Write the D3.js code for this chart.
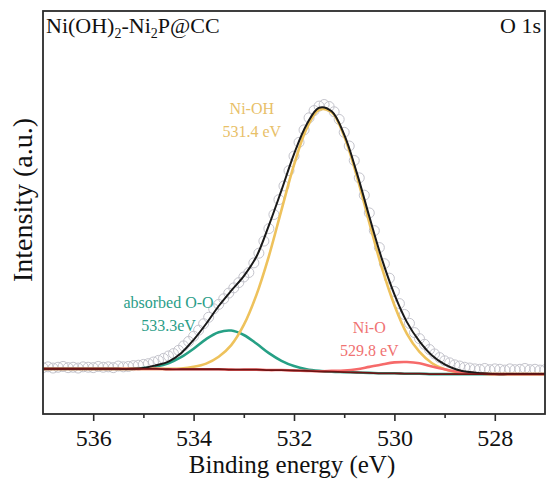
<!DOCTYPE html>
<html>
<head>
<meta charset="utf-8">
<script src="https://cdn.jsdelivr.net/npm/d3@7"></script>
<style>
  body { margin: 0; background: #fff; }
  svg text { font-family: "Liberation Serif", serif; }
</style>
</head>
<body>
<div id="canvas"></div>
<script>
// measured spectrum (O 1s), open circles
const rawEnergy = [
  537.0, 536.9, 536.8, 536.7, 536.6, 536.5, 536.4, 536.3, 536.2, 536.1,
  536.0, 535.9, 535.8, 535.7, 535.6, 535.5, 535.4, 535.3, 535.2, 535.1,
  535.0, 534.9, 534.8, 534.7, 534.6, 534.5, 534.4, 534.3, 534.2, 534.1,
  534.0, 533.9, 533.8, 533.7, 533.6, 533.5, 533.4, 533.3, 533.2, 533.1,
  533.0, 532.9, 532.8, 532.7, 532.6, 532.5, 532.4, 532.3, 532.2, 532.1,
  532.0, 531.9, 531.8, 531.7, 531.6, 531.5, 531.4, 531.3, 531.2, 531.1,
  531.0, 530.9, 530.8, 530.7, 530.6, 530.5, 530.4, 530.3, 530.2, 530.1,
  530.0, 529.9, 529.8, 529.7, 529.6, 529.5, 529.4, 529.3, 529.2, 529.1,
  529.0, 528.9, 528.8, 528.7, 528.6, 528.5, 528.4, 528.3, 528.2, 528.1,
  528.0, 527.9, 527.8, 527.7, 527.6, 527.5, 527.4, 527.3, 527.2, 527.1,
  527.0
];
const rawIntensity = [
  11.5, 11.7, 11.4, 11.6, 11.8, 11.5, 11.6, 11.4, 11.7, 11.6,
  11.5, 11.8, 11.6, 11.7, 11.5, 11.9, 11.7, 11.8, 12.0, 12.1,
  12.3, 12.5, 12.9, 13.3, 13.8, 14.4, 15.0, 15.8, 16.9, 18.0,
  19.3, 20.8, 22.4, 24.0, 26.1, 27.2, 28.6, 30.0, 31.3, 32.6,
  34.0, 35.1, 37.5, 39.9, 42.9, 46.0, 49.5, 53.2, 56.6, 60.4,
  64.0, 67.4, 70.5, 73.5, 75.3, 76.4, 76.8, 76.3, 75.0, 73.1,
  69.9, 66.5, 62.9, 58.6, 54.3, 49.9, 45.5, 41.3, 37.3, 33.7,
  30.4, 27.4, 24.7, 22.5, 20.2, 18.7, 17.3, 16.0, 14.9, 14.0,
  13.2, 12.7, 12.2, 11.9, 11.6, 11.4, 11.2, 11.1, 11.3, 11.0,
  11.2, 11.1, 10.9, 11.2, 11.0, 11.1, 11.3, 11.0, 11.1, 10.9,
  11.0
];

// fitted curves
const fitEnergy = [
  537.0, 536.75, 536.5, 536.25, 536.0, 535.75, 535.5, 535.25, 535.0, 534.75,
  534.5, 534.25, 534.0, 533.75, 533.5, 533.25, 533.0, 532.75, 532.5, 532.25,
  532.0, 531.75, 531.5, 531.25, 531.0, 530.75, 530.5, 530.25, 530.0, 529.75,
  529.5, 529.25, 529.0, 528.75, 528.5, 528.25, 528.0, 527.75, 527.5, 527.25,
  527.0
];
const background = [
  11.2, 11.2, 11.2, 11.2, 11.2, 11.2, 11.2, 11.2, 11.2, 11.2,
  11.1, 11.1, 11.1, 11.1, 11.1, 11.0, 11.0, 11.0, 10.9, 10.9,
  10.8, 10.7, 10.6, 10.5, 10.4, 10.3, 10.2, 10.1, 10.1, 10.0,
  10.0, 9.9, 9.9, 9.9, 9.9, 9.9, 9.9, 9.9, 9.9, 9.9,
  9.9
];
// peak heights above the background
const peakNiOH = [
  0, 0, 0, 0, 0, 0, 0, 0, 0, 0,
  0.1, 0.2, 0.6, 1.4, 3.1, 6.1, 11.1, 18.5, 28.3, 39.7,
  51.0, 60.1, 64.9, 64.4, 58.5, 48.8, 37.3, 26.2, 16.9, 9.9,
  5.4, 2.7, 1.2, 0.5, 0.2, 0.1, 0, 0, 0, 0,
  0
];
const peakOO = [
  0, 0, 0, 0, 0, 0, 0, 0, 0.2, 0.6,
  1.5, 3.0, 5.1, 7.5, 9.2, 9.7, 8.6, 6.5, 4.2, 2.3,
  1.1, 0.4, 0.1, 0, 0, 0, 0, 0, 0, 0,
  0, 0, 0, 0, 0, 0, 0, 0, 0, 0,
  0
];
const peakNiO = [
  0, 0, 0, 0, 0, 0, 0, 0, 0, 0,
  0, 0, 0, 0, 0, 0, 0, 0, 0, 0,
  0, 0, 0, 0.2, 0.4, 0.8, 1.5, 2.2, 2.7, 2.9,
  2.6, 1.9, 1.2, 0.6, 0.3, 0.1, 0, 0, 0, 0,
  0
];
const envelope = [
  11.2, 11.2, 11.2, 11.2, 11.2, 11.2, 11.2, 11.2, 11.4, 12.1,
  13.0, 15.1, 18.4, 22.4, 26.8, 30.6, 34.2, 39.0, 46.8, 55.5,
  64.5, 71.8, 76.0, 75.1, 69.3, 59.9, 49.0, 38.5, 29.7, 22.8,
  18.0, 14.5, 12.3, 11.0, 10.4, 10.1, 9.9, 9.9, 9.9, 9.9,
  9.9
];

const xTicks = [536, 534, 532, 530, 528];
const xMinorTicks = [535, 533, 531, 529];

const peakLabels = [
  { name: "Ni-OH", pos: "531.4 eV", x: 532.84, y: 74.4, color: "#e8c068" },
  { name: "absorbed O-O", pos: "533.3eV", x: 534.5, y: 26.4, color: "#2a9d88" },
  { name: "Ni-O", pos: "529.8 eV", x: 530.5, y: 20.1, color: "#f07272" }
];

const width = 547;
const height = 481;
const margin = { top: 11, left: 43, bottom: 67, right: 2 };
const iwidth = width - margin.left - margin.right;
const iheight = height - margin.top - margin.bottom;
const serif = "Liberation Serif";

const svg = d3.select("#canvas").append("svg")
  .attr("width", width)
  .attr("height", height)
  .attr("font-family", serif);

const g = svg.append("g").attr("transform", `translate(${margin.left},${margin.top})`);

const x = d3.scaleLinear().domain([537, 527]).range([0, iwidth]);
const y = d3.scaleLinear().domain([0, 100]).range([iheight, 0]);

g.append("clipPath").attr("id", "clip")
  .append("rect").attr("width", iwidth).attr("height", iheight);

const plot = g.append("g").attr("clip-path", "url(#clip)");

// raw data circles
plot.selectAll("circle").data(rawEnergy).enter().append("circle")
  .attr("cx", (d) => x(d))
  .attr("cy", (d, i) => y(rawIntensity[i]))
  .attr("r", 5)
  .style("fill", "none")
  .style("stroke", "#c4c4cc")
  .style("stroke-width", 1);

const line = d3.line()
  .x((d) => x(d[0]))
  .y((d) => y(d[1]))
  .curve(d3.curveCatmullRom.alpha(0.5));

function withBg(peak) {
  return fitEnergy.map((e, i) => [e, background[i] + peak[i]]);
}

const curves = [
  { pts: withBg(peakOO), color: "#26a085", w: 2.6 },
  { pts: withBg(peakNiOH), color: "#eec25c", w: 2.6 },
  { pts: withBg(peakNiO), color: "#f66a6a", w: 2.6 },
  { pts: fitEnergy.map((e, i) => [e, envelope[i]]), color: "#1a1a1a", w: 2 },
  { pts: fitEnergy.map((e, i) => [e, background[i]]), color: "#6e1414", w: 1.8 }
];

curves.forEach((c) => {
  plot.append("path")
    .attr("d", line(c.pts))
    .style("fill", "none")
    .style("stroke", c.color)
    .style("stroke-width", c.w);
});

// axes
g.append("g")
  .attr("transform", `translate(0,${iheight})`)
  .call(d3.axisBottom(x).tickValues(xMinorTicks).tickSize(4).tickFormat(""))
  .call((a) => a.select(".domain").remove())
  .call((a) => a.selectAll("line").attr("stroke", "#2b2b2b").attr("stroke-width", 1.6));

const xAxis = g.append("g")
  .attr("transform", `translate(0,${iheight})`)
  .call(d3.axisBottom(x).tickValues(xTicks).tickSize(7).tickPadding(8).tickFormat(d3.format("d")));
xAxis.attr("font-family", serif).attr("font-size", 24);
xAxis.select(".domain").remove();
xAxis.selectAll("line").attr("stroke", "#2b2b2b").attr("stroke-width", 1.6);
xAxis.selectAll("text")
  .attr("fill", "#111")
  .attr("font-family", serif)
  .style("font-family", serif)
  .style("font-size", "24px");

// frame
g.append("rect")
  .attr("width", iwidth)
  .attr("height", iheight)
  .style("fill", "none")
  .style("stroke", "#2b2b2b")
  .style("stroke-width", 1.8);

// axis titles
svg.append("text")
  .attr("x", margin.left + x(532) - 2)
  .attr("y", 473)
  .attr("text-anchor", "middle")
  .style("font-size", "25px")
  .attr("fill", "#111")
  .text("Binding energy (eV)");

svg.append("text")
  .attr("transform", "translate(32,200) rotate(-90)")
  .attr("text-anchor", "middle")
  .style("font-size", "28px")
  .attr("fill", "#111")
  .text("Intensity (a.u.)");

// sample name and region
const title = svg.append("text")
  .attr("x", 46)
  .attr("y", 33)
  .style("font-size", "22px")
  .attr("fill", "#111");
title.append("tspan").text("Ni(OH)");
title.append("tspan").attr("dy", 5).style("font-size", "14px").text("2");
title.append("tspan").attr("dy", -5).text("-Ni");
title.append("tspan").attr("dy", 5).style("font-size", "14px").text("2");
title.append("tspan").attr("dy", -5).text("P@CC");

svg.append("text")
  .attr("x", 541)
  .attr("y", 33)
  .attr("text-anchor", "end")
  .style("font-size", "22px")
  .attr("fill", "#111")
  .text("O 1s");

// peak annotations
peakLabels.forEach((p) => {
  const t = g.append("text")
    .attr("x", x(p.x))
    .attr("y", y(p.y))
    .attr("text-anchor", "middle")
    .style("font-size", "16px")
    .attr("fill", p.color);
  t.append("tspan").attr("x", x(p.x)).text(p.name);
  t.append("tspan").attr("x", x(p.x)).attr("dy", 23).text(p.pos);
});
</script>
</body>
</html>
